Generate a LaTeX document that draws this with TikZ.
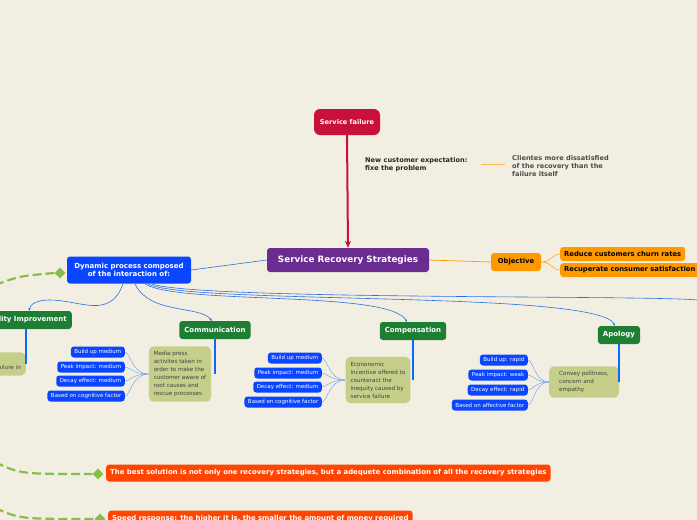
\documentclass[tikz,border=0pt]{standalone}
\usepackage{fontspec}
\setmainfont{DejaVu Sans}
\usetikzlibrary{shapes.geometric,arrows.meta}
\definecolor{bg}{HTML}{F2EFE2}
\definecolor{failc}{HTML}{C8103A}
\definecolor{purp}{HTML}{6A2C91}
\definecolor{orng}{HTML}{FF9900}
\definecolor{bluen}{HTML}{0A45FF}
\definecolor{grn}{HTML}{1E7E34}
\definecolor{olive}{HTML}{C5CF8A}
\definecolor{redo}{HTML}{FF4500}
\definecolor{lgreen}{HTML}{86BE48}
\definecolor{lineb}{HTML}{2A6FE8}
\tikzset{
 base/.style={rounded corners=3pt,font=\bfseries,text=white,inner sep=0pt,align=center},
 bluebox/.style={base,fill=bluen,font=\fontsize{5.5}{6}\selectfont,minimum height=11pt,inner xsep=3.5pt,anchor=east},
 greenbox/.style={base,fill=grn,font=\bfseries\fontsize{7}{8}\selectfont,minimum height=18pt,inner xsep=5pt},
 notebox/.style={rounded corners=5pt,fill=olive,font=\fontsize{5.6}{8}\selectfont,text=black!75,align=left,inner sep=5pt},
 orbox/.style={base,fill=orng,text=black,font=\bfseries\fontsize{6.8}{8}\selectfont,minimum height=14pt,inner xsep=4pt},
 redbox/.style={base,fill=redo,font=\bfseries\fontsize{6.9}{8}\selectfont,minimum height=17pt,inner xsep=4pt,anchor=west},
 bl/.style={draw=lineb,line width=0.6pt},
 vline/.style={draw=bluen!80!cyan,line width=1.4pt},
 thin/.style={draw=lineb!70,line width=0.4pt},
 gdash/.style={lgreen,line width=2.2pt,dash pattern=on 9pt off 4pt},
 dia/.style={diamond,fill=lgreen,inner sep=0pt,minimum size=11pt},
 plain/.style={font=\bfseries\fontsize{6.6}{8}\selectfont,align=left,inner sep=0pt,anchor=west}
}
\begin{document}
\begin{tikzpicture}[x=1pt,y=-1pt]
\fill[bg] (0,0) rectangle (697,520);
\useasboundingbox (0,0) rectangle (697,520);
\clip (0,0) rectangle (697,520);
\node[base,fill=failc,minimum width=66pt,minimum height=26pt,rounded corners=6pt,font=\bfseries\fontsize{6.6}{8}\selectfont] (sf) at (347,122) {Service failure};
\node[base,fill=purp,minimum width=162pt,minimum height=24pt,font=\bfseries\fontsize{8.8}{10}\selectfont] (srs) at (348,260) {Service Recovery Strategies};
\draw[failc,line width=2pt,-{Stealth[length=7pt,width=6pt]}] (sf.south) -- (srs.north);
\node[plain,text=black!85] (nce) at (365,165) {New customer expectation:\\fixe the problem};
\node[plain,text=black!70] (cli) at (512,166) {Clientes more dissatisfied\\of the recovery than the\\failure itself};
\draw[orng!70,line width=0.6pt] (481,164) coordinate (c1) -- (505,164) coordinate (c2);
\node[orbox,minimum height=18pt,minimum width=50pt] (obj) at (516,262) {Objective};
\draw[orng,line width=0.7pt] (srs.east) -- (obj.west);
\node[orbox,anchor=west] (r1) at (560,254) {Reduce customers churn rates};
\node[orbox,anchor=west] (r2) at (560,270) {Recuperate consumer satisfaction};
\draw[orng,line width=0.5pt] (obj.east) .. controls (552,262) and (552,254) .. (r1.west);
\draw[orng,line width=0.5pt] (obj.east) .. controls (552,262) and (552,270) .. (r2.west);
\node[base,fill=bluen,minimum width=124pt,minimum height=27pt,font=\bfseries\fontsize{7}{8.2}\selectfont] (dyn) at (129,270) {Dynamic process composed\\of the interaction of:};
\draw[bl] (srs.west) -- (dyn.east);
\node[dia] (d1) at (60,273) {};
\draw[gdash] (-5,285) .. controls (20,276) .. (d1.west);
\node[greenbox,anchor=east] (qi) at (72,320) {Quality Improvement};
\node[greenbox] (com) at (215,330) {Communication};
\node[greenbox] (cmp) at (413,331) {Compensation};
\node[greenbox] (apo) at (619,335) {Apology};
\draw[bl,-{Stealth[length=3pt]}] (123,284) .. controls (110,320) and (80,300) .. (50,300) .. controls (35,300) and (30,305) .. (29,311);
\draw[bl,-{Stealth[length=3pt]}] (135,284) .. controls (150,315) and (200,305) .. (212,321);
\draw[bl,-{Stealth[length=3pt]}] (145,284) .. controls (180,305) and (390,290) .. (407,322);
\draw[bl,-{Stealth[length=3pt]}] (148,284) .. controls (190,305) and (600,290) .. (615,326);
\draw[bl] (152,284) .. controls (200,300) and (650,295) .. (697,300);
\node[notebox,anchor=east] (nq) at (26,364) {Actions to\\improve failure in};
\node[notebox] (ncom) at (180,374) {Media press\\activites taken in\\order to make the\\customer aware of\\root causes and\\rescue processes};
\node[notebox] (ncmp) at (378,380) {Econonomic\\incentive offered to\\counteract the\\inequity caused by\\service failure};
\node[notebox,minimum width=70pt] (napo) at (584,382) {Convey politness,\\concern and\\empathy};
\draw[vline] (qi.south -| nq.east) -- (nq.east);
\draw[vline] (com.south) -- (com.south |- ncom.east);
\draw[vline] (cmp.south) -- (cmp.south |- ncmp.east);
\draw[vline] (apo.south) -- (apo.south |- napo.east);
\foreach \t/\y/\n in {Build up medium/352/a1,Peak impact: medium/367/a2,Decay effect: medium/381/a3,Based on cognitive factor/396/a4}{
 \node[bluebox] (\n) at (125,\y) {\t};
 \draw[thin] (ncom.west) .. controls (132,374) and (130,\y) .. (\n.east);}
\foreach \t/\y/\n in {Build up medium/358/b1,Peak impact: medium/373/b2,Decay effect: medium/387/b3,Based on cognitive factor/402/b4}{
 \node[bluebox] (\n) at (322,\y) {\t};
 \draw[thin] (ncmp.west) .. controls (329,380) and (327,\y) .. (\n.east);}
\foreach \t/\y/\n in {Build up: rapid/360/c1,Peak impact: weak/375/c2,Decay effect: rapid/390/c3,Based on affective factor/405/c4}{
 \node[bluebox] (\n) at (528,\y) {\t};
 \draw[thin] (napo.west) .. controls (535,382) and (533,\y) .. (\n.east);}
\node[dia] (d2) at (98,474) {};
\node[redbox] (best) at (106,473) {The best solution is not only one recovery strategies, but a adequete combination of all the recovery strategies};
\draw[gdash] (-5,462) .. controls (20,474) .. (d2.west);
\node[dia] (d3) at (100,519) {};
\node[redbox] (speed) at (108,519) {Speed response: the higher it is, the smaller the amount of money required};
\draw[gdash] (-5,508) .. controls (20,519) .. (d3.west);
\end{tikzpicture}
\end{document}
